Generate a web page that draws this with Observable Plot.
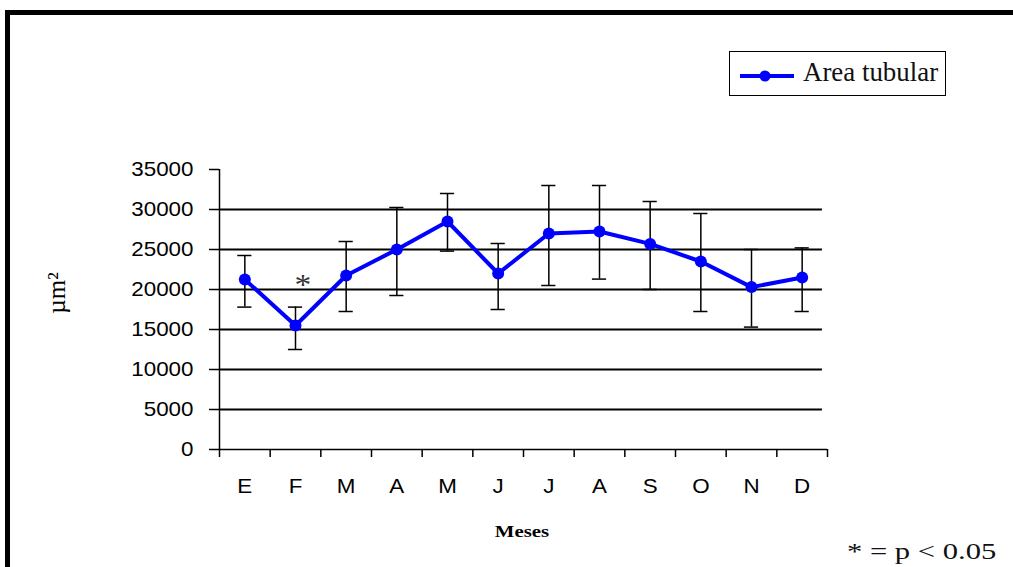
<!DOCTYPE html>
<html>
<head>
<meta charset="utf-8">
<script src="https://cdn.jsdelivr.net/npm/d3@7"></script>
<script src="https://cdn.jsdelivr.net/npm/@observablehq/plot@0.6"></script>
<style>
  html, body { margin: 0; padding: 0; background: #fff; }
  #wrap { position: relative; width: 1013px; height: 567px; overflow: hidden; }
  #frame { position: absolute; left: 5px; top: 10px; width: 1100px; height: 700px;
           border-left: 5px solid #000; border-top: 5px solid #000; }
  .serif { position: absolute; font-family: "Liberation Serif", serif; color: #000; white-space: nowrap; }
  #legend { position: absolute; left: 729px; top: 51px; width: 215px; height: 43px;
            border: 1.5px solid #000; background: #fff; }
  #legend svg { position: absolute; left: 8px; top: 17px; }
  #legtext { left: 73px; top: 20px; font-size: 28px; line-height: 1; transform: translateY(-50%) scaleX(0.96); transform-origin: left center; color: #111; }
  #ylab { left: 57px; top: 293px; font-size: 25px; transform: translate(-50%, -50%) rotate(-90deg); }
  #xlab { left: 522px; top: 532px; font-size: 16px; font-weight: bold; transform: translate(-50%, -50%) scaleX(1.3); }
  #note { left: 847px; top: 552px; font-size: 23px; transform: translateY(-50%) scaleX(1.33); transform-origin: left center; color: #111; }
</style>
</head>
<body>
<div id="wrap">
  <div id="chart"></div>
  <div id="frame"></div>
  <div id="legend">
    <svg width="60" height="14"><line x1="2" y1="7" x2="56" y2="7" stroke="#0000ff" stroke-width="4"/><circle cx="27" cy="7" r="5.5" fill="#0000ff"/></svg>
    <div id="legtext" class="serif">Area tubular</div>
  </div>
  <div id="ylab" class="serif">µm²</div>
  <div id="xlab" class="serif">Meses</div>
  <div id="note" class="serif">* = p &lt; 0.05</div>
</div>
<script>
// ---- data ----
const months = ["E", "F", "M", "A", "M", "J", "J", "A", "S", "O", "N", "D"];
const area   = [21250, 15500, 21750, 25000, 28500, 22000, 27000, 27250, 25700, 23500, 20300, 21500];
const upper  = [24250, 17800, 26000, 30250, 32000, 25750, 33000, 33000, 31000, 29500, 25000, 25200];
const lower  = [17800, 12500, 17250, 19250, 24800, 17500, 20500, 21300, 20000, 17250, 15300, 17250];
const yTicks = [0, 5000, 10000, 15000, 20000, 25000, 30000, 35000];
const gridValues = [5000, 10000, 15000, 20000, 25000, 30000];
const significance = [{i: 1, v: 20600, label: "*"}];

const rows = months.map((m, i) => ({i, m, v: area[i], lo: lower[i], hi: upper[i]}));
const centers = months.map((_, i) => i);
const bounds = d3.range(months.length + 1).map(k => k - 0.5);
const cap = 0.14;

const chart = Plot.plot({
  width: 1013,
  height: 567,
  marginLeft: 219,
  marginRight: 186,
  marginTop: 169,
  marginBottom: 118,
  style: {fontFamily: "'Liberation Sans', Arial, sans-serif", fontSize: "20px", color: "#000", background: "transparent"},
  x: {domain: [-0.5, months.length - 0.5]},
  y: {domain: [0, 35000]},
  marks: [
    Plot.ruleY(gridValues, {x1: -0.5, x2: months.length - 0.6, stroke: "#000", strokeWidth: 2}),
    Plot.ruleY([0], {stroke: "#000", strokeWidth: 1.5}),
    Plot.ruleX([-0.5], {stroke: "#000", strokeWidth: 1.5}),
    Plot.axisY({ticks: yTicks, tickSize: 10, tickPadding: 16, tickFormat: d => String(d), label: null, strokeWidth: 1.5}),
    Plot.axisX({ticks: bounds, tickSize: 8, tickFormat: () => "", label: null, strokeWidth: 1.5}),
    Plot.axisX({ticks: centers, tickSize: 0, tickPadding: 29, tickFormat: i => months[i], label: null}),
    Plot.ruleX(rows, {x: "i", y1: "lo", y2: "hi", stroke: "#000", strokeWidth: 1.5}),
    Plot.ruleY(rows, {y: "hi", x1: d => d.i - cap, x2: d => d.i + cap, stroke: "#000", strokeWidth: 1.5}),
    Plot.ruleY(rows, {y: "lo", x1: d => d.i - cap, x2: d => d.i + cap, stroke: "#000", strokeWidth: 1.5}),
    Plot.line(rows, {x: "i", y: "v", stroke: "#0000ff", strokeWidth: 4}),
    Plot.dot(rows, {x: "i", y: "v", r: 6, fill: "#0000ff", stroke: "none"}),
    Plot.text(significance, {x: "i", y: "v", text: "label", dx: 7.5, fontSize: 30, fontFamily: "'Liberation Serif', serif", fill: "#333", ariaLabel: "asterisk"})
  ]
});

// horizontal stretch of tick labels, as in the reference
for (const t of chart.querySelectorAll("text")) {
  if (t.closest('[aria-label="asterisk"]')) continue;
  const tr = t.getAttribute("transform");
  if (tr) t.setAttribute("transform", tr + " scale(1.12,1)");
  else {
    const x = +t.getAttribute("x") || 0, y = +t.getAttribute("y") || 0;
    t.removeAttribute("x"); t.removeAttribute("y");
    t.setAttribute("transform", `translate(${x},${y}) scale(1.12,1)`);
  }
}
document.getElementById("chart").appendChild(chart);
</script>
</body>
</html>
